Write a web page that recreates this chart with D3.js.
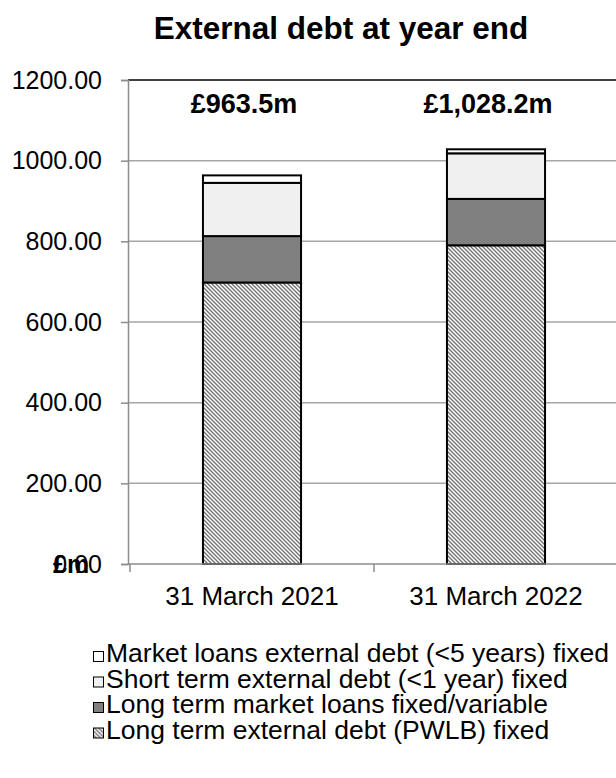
<!DOCTYPE html>
<html>
<head>
<meta charset="utf-8">
<script src="https://cdn.jsdelivr.net/npm/d3@7/dist/d3.min.js"></script>
<style>
  html, body { margin: 0; padding: 0; background: #fff; }
  svg { display: block; font-family: "Liberation Sans", Arial, sans-serif; }
</style>
</head>
<body>
<svg id="chart" width="616" height="778"></svg>
<script>
// Year-end dates shown on the x axis
const categories = ["31 March 2021", "31 March 2022"];
// Stack series, bottom to top (£m)
const seriesNames = [
  "Long term external debt (PWLB) fixed",
  "Long term market loans fixed/variable",
  "Short term external debt (<1 year) fixed",
  "Market loans external debt (<5 years) fixed"
];
const pwlb        = [698.0, 790.2];
const longMarket  = [115.0, 115.0];
const shortTerm   = [132.0, 113.0];
const marketUnder5 = [18.5, 10.0];
// Totals printed above the bars
const totalLabels = ["£963.5m", "£1,028.2m"];
// Y axis ticks
const yTicks = [0, 200, 400, 600, 800, 1000, 1200];

const svg = d3.select("#chart");

// Hatched fill for the PWLB segment
const defs = svg.append("defs");
const pat = defs.append("pattern")
  .attr("id", "hatch")
  .attr("patternUnits", "userSpaceOnUse")
  .attr("width", 4).attr("height", 4);
pat.append("rect").attr("width", 4).attr("height", 4).attr("fill", "#ffffff");
pat.append("path")
  .attr("d", "M-1,-1 L5,5 M3,-1 L5,1 M-1,3 L1,5")
  .attr("stroke", "#6e6e6e").attr("stroke-width", 1.3);

const fills = ["url(#hatch)", "#808080", "#f0f0f0", "#ffffff"];
const valuesBySeries = [pwlb, longMarket, shortTerm, marketUnder5];

const rows = categories.map((c, i) => {
  const r = { cat: c };
  seriesNames.forEach((s, k) => r[s] = valuesBySeries[k][i]);
  return r;
});
const stacked = d3.stack().keys(seriesNames)(rows);

const x = d3.scaleBand().domain(categories).range([130, 618])
  .paddingInner(0.598).paddingOuter(0.299);
const y = d3.scaleLinear().domain([0, 1200]).range([564, 80]);

// Title
svg.append("text")
  .attr("x", 341).attr("y", 39)
  .attr("text-anchor", "middle")
  .attr("font-size", 31.5).attr("font-weight", "bold")
  .text("External debt at year end");

// Gridlines
svg.append("g").selectAll("line")
  .data(yTicks.filter(t => t > 0 && t < 1200))
  .join("line")
  .attr("x1", 128).attr("x2", 616)
  .attr("y1", d => y(d)).attr("y2", d => y(d))
  .attr("stroke", "#a6a6a6").attr("stroke-width", 1.5);

// Top frame line
svg.append("line")
  .attr("x1", 128).attr("x2", 616)
  .attr("y1", y(1200)).attr("y2", y(1200))
  .attr("stroke", "#000").attr("stroke-width", 1.5);

// Bars
svg.append("g").selectAll("g")
  .data(stacked)
  .join("g")
  .attr("fill", (d, i) => fills[i])
  .selectAll("rect")
  .data(d => d)
  .join("rect")
  .attr("x", d => x(d.data.cat))
  .attr("width", x.bandwidth())
  .attr("y", d => y(d[1]))
  .attr("height", d => y(d[0]) - y(d[1]))
  .attr("stroke", "#000").attr("stroke-width", 2);

// Y axis
const yAxis = d3.axisLeft(y).tickValues(yTicks).tickSize(7).tickPadding(19)
  .tickFormat(d3.format(".2f"));
const gy = svg.append("g").attr("transform", "translate(128,0)").call(yAxis);
gy.select(".domain").attr("stroke", "#8c8c8c").attr("stroke-width", 1.5);
gy.selectAll(".tick line").attr("stroke", "#8c8c8c").attr("stroke-width", 1.5);
gy.selectAll(".tick text").attr("font-size", 25).attr("fill", "#000")
  .attr("font-family", "Liberation Sans, Arial, sans-serif");

// X axis line with ticks at category boundaries
svg.append("line")
  .attr("x1", 128).attr("x2", 616)
  .attr("y1", y(0)).attr("y2", y(0))
  .attr("stroke", "#8c8c8c").attr("stroke-width", 1.5);
const step = x.step();
const bounds = d3.range(categories.length + 1).map(i => x.range()[0] + i * step);
svg.append("g").selectAll("line")
  .data(bounds)
  .join("line")
  .attr("x1", d => d).attr("x2", d => d)
  .attr("y1", y(0)).attr("y2", y(0) + 8)
  .attr("stroke", "#8c8c8c").attr("stroke-width", 1.5);

// Category labels
svg.append("g").selectAll("text")
  .data(categories)
  .join("text")
  .attr("x", d => x(d) + x.bandwidth() / 2)
  .attr("y", 605)
  .attr("text-anchor", "middle")
  .attr("font-size", 26)
  .text(d => d);

// Unit label
svg.append("text")
  .attr("x", 53).attr("y", 573)
  .attr("font-size", 25).attr("font-weight", "bold")
  .text("£m");

// Total labels
svg.append("g").selectAll("text")
  .data(categories)
  .join("text")
  .attr("x", (d, i) => x(d) + x.bandwidth() / 2 - 8)
  .attr("y", 113)
  .attr("text-anchor", "middle")
  .attr("font-size", 27).attr("font-weight", "bold")
  .text((d, i) => totalLabels[i]);

// Legend, top item is the top of the stack
const legendOrder = d3.range(seriesNames.length).reverse();
const lg = svg.append("g").selectAll("g")
  .data(legendOrder)
  .join("g")
  .attr("transform", (d, i) => `translate(93,${662 + i * 25.5})`);
lg.append("rect")
  .attr("x", 0.5).attr("y", -10.5).attr("width", 10).attr("height", 10)
  .attr("fill", d => fills[d]).attr("stroke", "#000").attr("stroke-width", 1);
lg.append("text")
  .attr("x", 13).attr("y", 0)
  .attr("font-size", 26.5)
  .text(d => seriesNames[d]);
</script>
</body>
</html>
